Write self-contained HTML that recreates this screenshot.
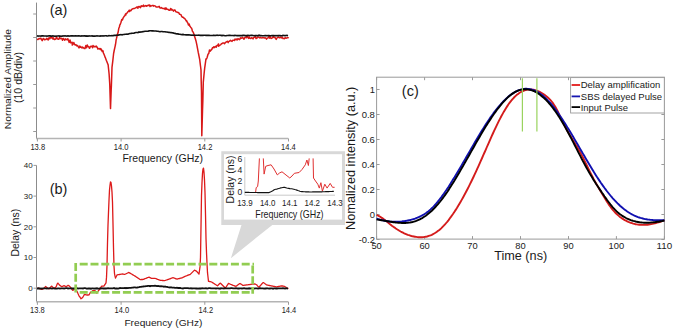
<!DOCTYPE html>
<html><head><meta charset="utf-8"><style>
html,body{margin:0;padding:0;background:#fff;}
body{width:675px;height:330px;position:relative;overflow:hidden;font-family:"Liberation Sans",sans-serif;}
</style></head><body>
<svg width="675" height="330" viewBox="0 0 675 330" style="position:absolute;left:0;top:0">
<g stroke="#9a9a9a" stroke-width="1" fill="none">
<path d="M36.5,2.6 V138.5" stroke="#8c8c8c"/><path d="M36.0,138.5 H288.3" stroke="#b4b4b4" stroke-width="1.4"/>
<path d="M33.2,14.0 H36.5"/>
<path d="M33.2,37.5 H36.5"/>
<path d="M33.2,61.0 H36.5"/>
<path d="M33.2,84.5 H36.5"/>
<path d="M33.2,108.0 H36.5"/>
<path d="M33.2,131.5 H36.5"/>
<path d="M37.4,138.5 V141.5"/>
<path d="M121.1,138.5 V141.5"/>
<path d="M204.8,138.5 V141.5"/>
<path d="M288.5,138.5 V141.5"/>
</g>
<path d="M37.0,39.3 L37.8,39.6 L38.5,39.0 L39.2,38.4 L40.0,38.8 L40.8,38.2 L41.5,39.3 L42.2,40.7 L43.0,38.8 L43.8,38.6 L44.5,39.8 L45.2,39.6 L46.0,39.4 L46.8,38.3 L47.5,39.2 L48.2,40.0 L49.0,37.8 L49.8,38.8 L50.5,37.3 L51.2,37.9 L52.0,37.3 L52.8,39.0 L53.5,37.9 L54.2,39.5 L55.0,39.4 L55.8,39.0 L56.5,36.6 L57.2,38.7 L58.0,39.2 L58.8,39.3 L59.5,37.6 L60.2,38.7 L61.0,38.2 L61.8,38.4 L62.5,40.3 L63.2,38.4 L64.0,39.2 L64.8,40.2 L65.5,38.8 L66.2,39.4 L67.0,39.7 L67.1,39.7 L67.8,38.7 L68.5,40.6 L69.2,42.4 L70.0,39.9 L70.8,42.9 L71.5,42.6 L72.2,42.3 L72.3,45.1 L73.0,44.2 L73.8,42.5 L74.5,44.2 L75.2,45.1 L76.0,44.7 L76.8,45.9 L77.5,45.5 L78.2,46.7 L79.0,47.9 L79.8,46.0 L80.5,47.3 L81.2,47.0 L82.0,48.0 L82.7,47.0 L82.8,47.6 L83.5,47.7 L84.2,48.5 L85.0,48.5 L85.8,45.6 L85.8,46.2 L86.5,47.7 L87.2,44.9 L88.0,46.5 L88.8,46.9 L89.5,48.3 L90.0,47.7 L90.2,46.6 L91.0,46.3 L91.8,46.2 L92.5,47.8 L93.0,45.6 L93.2,45.8 L94.0,46.8 L94.8,46.5 L95.5,46.7 L96.2,46.1 L97.0,47.5 L97.2,47.1 L97.8,49.0 L98.5,48.8 L99.2,48.4 L100.0,49.4 L100.8,48.6 L101.4,50.3 L101.5,49.4 L102.2,51.4 L103.0,50.9 L103.4,53.0 L103.8,53.8 L104.5,55.6 L105.2,57.4 L105.5,58.0 L106.0,59.4 L106.4,60.5 L106.8,61.4 L107.5,63.2 L108.2,65.0 L108.2,65.5 L109.0,73.0 L109.1,74.0 L109.8,84.7 L109.8,85.5 L110.5,108.6 L111.2,89.4 L111.4,85.5 L112.0,67.3 L112.8,60.9 L113.5,54.5 L113.6,53.6 L114.2,50.5 L115.0,46.9 L115.5,44.5 L115.8,42.6 L116.1,40.0 L116.5,38.4 L117.2,35.3 L117.9,32.7 L118.0,32.8 L118.8,28.3 L119.5,26.8 L119.7,25.0 L120.2,24.6 L121.0,22.3 L121.8,19.4 L122.1,20.1 L122.5,19.7 L123.2,17.8 L124.0,16.6 L124.8,15.7 L125.5,14.1 L125.8,15.0 L126.2,13.5 L127.0,13.1 L127.8,11.9 L128.5,11.3 L129.2,10.2 L129.4,11.6 L130.0,10.4 L130.8,10.7 L131.5,9.8 L132.2,9.0 L133.0,8.8 L133.8,8.4 L134.5,8.5 L135.2,8.0 L136.0,7.8 L136.8,6.9 L137.5,7.0 L137.9,8.3 L138.2,6.8 L139.0,6.4 L139.8,7.1 L140.5,7.6 L141.2,5.8 L142.0,6.4 L142.8,6.0 L143.5,5.1 L143.9,6.5 L144.2,6.1 L145.0,6.1 L145.8,5.5 L146.5,6.2 L147.2,5.6 L148.0,5.7 L148.8,5.1 L149.5,5.0 L150.0,6.5 L150.2,5.4 L151.0,5.9 L151.8,5.7 L152.5,5.4 L153.2,5.4 L153.6,6.1 L154.0,5.6 L154.8,5.9 L155.5,6.2 L156.2,7.1 L157.0,7.0 L157.8,7.0 L158.5,6.7 L159.2,6.3 L160.0,7.9 L160.8,8.1 L161.5,7.6 L162.2,8.1 L163.0,8.5 L163.8,8.6 L164.5,8.9 L164.9,8.1 L165.2,9.4 L166.0,7.9 L166.8,9.3 L167.5,9.2 L168.2,9.5 L169.0,10.3 L169.8,10.2 L170.5,8.7 L170.9,8.5 L171.2,10.1 L172.0,9.4 L172.8,10.3 L173.5,11.1 L174.2,9.9 L175.0,10.0 L175.8,11.7 L176.5,11.9 L177.0,12.0 L177.2,12.3 L178.0,12.5 L178.8,12.8 L179.5,14.2 L180.2,14.4 L181.0,14.7 L181.8,16.7 L181.8,16.4 L182.5,17.3 L183.2,17.2 L184.0,18.2 L184.8,18.7 L185.5,19.5 L186.2,20.9 L186.7,20.7 L187.0,21.8 L187.8,22.9 L188.5,25.0 L189.2,24.0 L189.7,26.0 L190.0,26.0 L190.8,27.5 L191.5,28.1 L192.2,30.0 L192.2,30.9 L193.0,31.9 L193.8,33.6 L194.2,34.3 L194.5,36.3 L195.2,38.3 L196.0,41.0 L196.1,41.4 L196.8,44.7 L197.5,48.4 L197.6,48.9 L198.2,52.2 L198.8,55.0 L199.0,56.1 L199.8,60.0 L199.8,60.3 L200.5,66.0 L201.0,70.0 L201.2,81.0 L201.5,92.0 L201.8,135.8 L202.0,128.7 L202.5,111.0 L202.8,101.9 L203.3,82.0 L203.5,80.0 L204.2,72.5 L204.7,68.0 L205.0,65.8 L205.8,60.2 L205.9,59.1 L206.5,59.0 L207.2,57.2 L208.0,54.2 L208.8,53.4 L208.9,52.8 L209.5,50.0 L210.2,51.2 L211.0,50.1 L211.8,49.4 L212.5,47.7 L213.2,47.4 L213.8,46.9 L214.0,47.8 L214.8,46.9 L215.5,46.4 L216.2,47.2 L217.0,45.4 L217.8,45.2 L218.5,44.0 L218.6,46.3 L219.2,45.5 L220.0,45.1 L220.8,44.6 L221.5,43.8 L222.2,43.5 L222.3,43.1 L223.0,42.9 L223.8,42.9 L224.5,43.7 L225.2,42.8 L226.0,42.1 L226.8,41.6 L227.5,41.3 L228.2,42.6 L228.3,41.9 L229.0,41.4 L229.8,41.0 L230.5,40.3 L231.2,40.9 L232.0,41.4 L232.8,40.3 L233.5,40.3 L234.2,40.2 L234.4,40.4 L235.0,39.0 L235.8,39.7 L236.5,39.0 L237.2,40.0 L238.0,38.6 L238.8,39.3 L239.5,39.7 L240.2,38.2 L240.5,37.9 L241.0,38.4 L241.8,38.1 L242.5,37.3 L243.2,38.3 L244.0,39.2 L244.8,37.6 L245.5,37.5 L246.2,36.8 L246.5,37.7 L247.0,36.6 L247.8,36.7 L248.5,38.4 L249.2,36.9 L250.0,38.3 L250.8,38.6 L251.5,37.7 L252.2,37.9 L253.0,38.9 L253.8,37.4 L254.5,37.2 L255.2,36.6 L255.7,37.6 L256.0,38.6 L256.8,38.3 L257.5,37.0 L258.2,37.0 L259.0,37.3 L259.8,37.9 L260.5,37.5 L261.2,37.8 L262.0,37.9 L262.8,37.5 L263.5,37.7 L264.2,37.9 L265.0,37.7 L265.8,38.1 L266.5,39.1 L267.2,38.2 L268.0,37.8 L268.8,36.6 L269.5,38.1 L270.0,36.4 L270.2,36.8 L271.0,38.4 L271.8,38.3 L272.5,37.7 L273.2,36.6 L274.0,37.5 L274.8,37.3 L275.5,38.2 L276.2,39.4 L277.0,38.0 L277.8,37.3 L278.5,37.0 L279.2,37.8 L280.0,37.7 L280.8,37.0 L281.5,37.9 L282.2,37.0 L283.0,38.6 L283.8,38.6 L284.5,38.7 L285.2,37.6 L286.0,38.3 L286.8,37.9 L287.5,37.7 L288.2,37.8 L288.5,37.1" stroke="#d81818" stroke-width="1.5" fill="none" stroke-linejoin="round"/>
<path d="M37.0,35.8 L38.0,36.1 L39.0,36.0 L40.0,36.0 L41.0,36.1 L42.0,35.8 L43.0,35.9 L44.0,36.0 L45.0,36.0 L46.0,36.0 L47.0,36.1 L48.0,36.0 L49.0,35.9 L50.0,35.9 L51.0,36.1 L52.0,36.1 L53.0,35.8 L54.0,36.2 L55.0,36.1 L56.0,36.2 L57.0,36.0 L58.0,36.0 L59.0,35.9 L60.0,36.3 L61.0,36.0 L62.0,36.2 L63.0,35.9 L64.0,36.0 L65.0,35.8 L66.0,36.0 L67.0,36.1 L68.0,35.8 L69.0,36.1 L70.0,36.0 L71.0,35.9 L72.0,35.9 L73.0,35.9 L74.0,36.0 L75.0,35.9 L76.0,35.9 L77.0,36.0 L78.0,35.9 L79.0,35.8 L80.0,36.0 L81.0,36.1 L82.0,35.8 L83.0,36.0 L84.0,35.9 L85.0,35.9 L86.0,36.1 L87.0,35.9 L88.0,36.2 L89.0,35.9 L90.0,36.0 L91.0,36.0 L92.0,35.9 L93.0,36.1 L94.0,36.0 L95.0,36.1 L96.0,36.0 L97.0,35.9 L98.0,36.0 L99.0,36.0 L100.0,36.1 L101.0,35.9 L102.0,36.0 L103.0,35.8 L104.0,36.0 L105.0,35.8 L106.0,35.7 L107.0,35.9 L108.0,36.0 L109.0,35.6 L110.0,35.7 L111.0,35.7 L112.0,35.6 L113.0,35.7 L114.0,35.4 L115.0,35.3 L116.0,35.4 L117.0,35.1 L118.0,35.2 L119.0,34.9 L120.0,34.8 L121.0,34.6 L122.0,34.9 L123.0,34.5 L124.0,34.5 L125.0,34.3 L126.0,34.2 L127.0,34.1 L128.0,34.2 L129.0,33.7 L130.0,33.5 L131.0,33.4 L132.0,33.2 L133.0,33.3 L134.0,33.1 L135.0,32.8 L136.0,32.5 L137.0,32.5 L138.0,32.6 L139.0,31.9 L140.0,32.2 L141.0,31.9 L142.0,32.0 L143.0,31.6 L144.0,31.5 L145.0,31.3 L146.0,31.2 L147.0,31.3 L148.0,31.2 L149.0,30.9 L150.0,30.8 L151.0,30.7 L152.0,30.9 L153.0,30.9 L154.0,31.0 L155.0,31.0 L156.0,31.0 L157.0,31.2 L158.0,31.3 L159.0,31.5 L160.0,31.7 L161.0,31.5 L162.0,31.5 L163.0,31.7 L164.0,31.7 L165.0,31.8 L166.0,32.0 L167.0,32.0 L168.0,32.3 L169.0,32.4 L170.0,32.5 L171.0,32.6 L172.0,32.7 L173.0,32.9 L174.0,33.2 L175.0,33.4 L176.0,33.7 L177.0,33.9 L178.0,33.9 L179.0,34.3 L180.0,34.2 L181.0,34.5 L182.0,34.6 L183.0,34.4 L184.0,34.8 L185.0,34.8 L186.0,34.9 L187.0,34.9 L188.0,34.9 L189.0,34.9 L190.0,35.0 L191.0,35.1 L192.0,35.2 L193.0,35.0 L194.0,35.2 L195.0,35.2 L196.0,35.2 L197.0,35.2 L198.0,35.3 L199.0,35.1 L200.0,35.4 L201.0,35.3 L202.0,35.4 L203.0,35.4 L204.0,35.3 L205.0,35.3 L206.0,35.4 L207.0,35.4 L208.0,35.4 L209.0,35.2 L210.0,35.5 L211.0,35.5 L212.0,35.5 L213.0,35.4 L214.0,35.2 L215.0,35.5 L216.0,35.4 L217.0,35.1 L218.0,35.5 L219.0,35.3 L220.0,35.3 L221.0,35.4 L222.0,35.6 L223.0,35.4 L224.0,35.5 L225.0,35.7 L226.0,35.7 L227.0,35.5 L228.0,35.5 L229.0,35.3 L230.0,35.4 L231.0,35.5 L232.0,35.5 L233.0,35.5 L234.0,35.6 L235.0,35.4 L236.0,35.5 L237.0,35.6 L238.0,35.6 L239.0,35.6 L240.0,35.6 L241.0,35.5 L242.0,35.6 L243.0,35.4 L244.0,35.3 L245.0,35.6 L246.0,35.5 L247.0,35.6 L248.0,35.3 L249.0,35.5 L250.0,35.5 L251.0,35.4 L252.0,35.3 L253.0,35.5 L254.0,35.7 L255.0,35.6 L256.0,35.5 L257.0,35.6 L258.0,35.7 L259.0,35.2 L260.0,35.6 L261.0,35.6 L262.0,35.7 L263.0,35.8 L264.0,35.7 L265.0,35.6 L266.0,35.6 L267.0,35.7 L268.0,35.5 L269.0,35.6 L270.0,35.7 L271.0,35.8 L272.0,35.6 L273.0,35.6 L274.0,35.6 L275.0,35.8 L276.0,35.6 L277.0,35.8 L278.0,35.5 L279.0,35.6 L280.0,35.6 L281.0,35.7 L282.0,35.7 L283.0,35.4 L284.0,35.5 L285.0,35.6 L286.0,35.5 L287.0,35.4 L288.0,35.7" stroke="#111" stroke-width="1.6" fill="none"/>
<g font-family="Liberation Sans, sans-serif">
<text x="49.7" y="15.2" font-size="14.5" text-anchor="start" fill="#1a1a1a" >(a)</text>
<text x="37.75" y="150.1" font-size="8.2" text-anchor="middle" fill="#1a1a1a"  textLength="14.7" lengthAdjust="spacingAndGlyphs">13.8</text>
<text x="121.05" y="150.1" font-size="8.2" text-anchor="middle" fill="#1a1a1a"  textLength="14.7" lengthAdjust="spacingAndGlyphs">14.0</text>
<text x="205.0" y="150.1" font-size="8.2" text-anchor="middle" fill="#1a1a1a"  textLength="14.7" lengthAdjust="spacingAndGlyphs">14.2</text>
<text x="288.45" y="150.1" font-size="8.2" text-anchor="middle" fill="#1a1a1a"  textLength="14.7" lengthAdjust="spacingAndGlyphs">14.4</text>
<text x="122.4" y="161.9" font-size="10.2" text-anchor="start" fill="#1a1a1a"  textLength="80.6" lengthAdjust="spacingAndGlyphs">Frequency (GHz)</text>
<text x="11.4" y="129.2" font-size="9.9" text-anchor="start" fill="#1a1a1a" transform="rotate(-90 11.4 129.2)"  textLength="100.2" lengthAdjust="spacingAndGlyphs">Normalized Amplitude</text>
<text x="22.3" y="103.0" font-size="10.0" text-anchor="start" fill="#1a1a1a" transform="rotate(-90 22.3 103.0)"  textLength="51" lengthAdjust="spacingAndGlyphs">(10 dB/div)</text>
</g>
<g stroke="#9a9a9a" stroke-width="1" fill="none">
<path d="M36.5,165.3 V301.8" stroke="#8c8c8c"/><path d="M36.0,301.8 H288.3" stroke="#b4b4b4" stroke-width="1.5"/>
<path d="M33.5,288.2 H36.5"/>
<path d="M33.5,257.5 H36.5"/>
<path d="M33.5,226.8 H36.5"/>
<path d="M33.5,196.1 H36.5"/>
<path d="M33.5,165.4 H36.5"/>
<path d="M37.4,301.8 V304.8"/>
<path d="M121.1,301.8 V304.8"/>
<path d="M204.8,301.8 V304.8"/>
<path d="M288.5,301.8 V304.8"/>
</g>
<path d="M37.0,288.5 L37.5,288.3 L38.0,288.2 L38.5,288.2 L39.0,288.4 L39.5,288.6 L40.0,288.8 L40.5,288.9 L41.0,289.1 L41.5,289.3 L42.0,289.3 L42.5,289.1 L43.0,289.0 L43.5,288.7 L44.0,288.1 L44.5,287.6 L45.0,287.1 L45.5,286.5 L46.0,286.8 L46.5,287.2 L47.0,287.6 L47.5,288.0 L48.0,288.3 L48.5,288.6 L49.0,288.8 L49.5,288.3 L50.0,287.7 L50.5,287.2 L51.0,286.6 L51.5,286.1 L52.0,286.3 L52.5,286.9 L53.0,287.4 L53.5,287.8 L54.0,287.8 L54.5,287.8 L55.0,287.8 L55.5,287.8 L56.0,286.9 L56.5,285.8 L57.0,284.6 L57.5,283.5 L58.0,283.1 L58.5,283.8 L59.0,284.4 L59.5,285.1 L60.0,285.4 L60.5,285.8 L61.0,286.2 L61.5,286.6 L62.0,286.6 L62.5,286.3 L63.0,286.1 L63.5,285.8 L64.0,285.7 L64.5,285.9 L65.0,286.2 L65.5,286.4 L66.0,286.6 L66.5,286.4 L67.0,286.1 L67.5,285.7 L68.0,285.4 L68.5,285.4 L69.0,285.8 L69.5,286.2 L70.0,286.7 L70.5,287.1 L71.0,287.8 L71.5,288.6 L72.0,289.4 L72.5,290.1 L73.0,290.4 L73.5,289.9 L74.0,289.3 L74.5,289.0 L75.0,289.3 L75.5,289.7 L76.0,290.1 L76.5,290.5 L77.0,291.3 L77.5,292.4 L78.0,293.6 L78.5,294.7 L79.0,295.8 L79.5,296.5 L80.0,297.2 L80.5,298.0 L81.0,298.8 L81.5,298.5 L82.0,298.0 L82.5,297.5 L83.0,296.8 L83.5,296.0 L84.0,295.1 L84.5,294.4 L85.0,294.6 L85.5,294.7 L86.0,294.8 L86.5,294.9 L87.0,295.0 L87.5,295.0 L88.0,295.0 L88.5,295.0 L89.0,294.8 L89.5,294.0 L90.0,293.2 L90.5,292.4 L91.0,291.9 L91.5,291.5 L92.0,291.2 L92.5,290.8 L93.0,290.6 L93.5,290.6 L94.0,290.6 L94.5,290.6 L95.0,290.6 L95.5,291.4 L96.0,292.2 L96.5,293.0 L97.0,292.9 L97.5,292.1 L98.0,291.4 L98.5,290.7 L99.0,290.0 L99.5,289.3 L100.0,288.5 L100.5,287.8 L101.0,287.1 L101.5,286.4 L102.0,286.1 L102.5,286.1 L103.0,286.1 L103.5,286.1 L104.0,286.0 L104.5,285.2 L105.0,284.5 L105.5,283.7 L106.0,282.9 L106.5,277.4 L107.0,265.5 L107.5,242.7 L108.0,225.0 L108.5,212.4 L109.0,200.3 L109.5,190.0 L110.0,185.3 L110.5,181.9 L111.0,182.5 L111.5,186.0 L112.0,192.1 L112.5,202.3 L113.0,223.9 L113.5,247.8 L114.0,266.3 L114.5,273.5 L115.0,276.2 L115.5,278.1 L116.0,277.0 L116.5,276.0 L117.0,274.9 L117.5,274.8 L118.0,274.7 L118.5,274.6 L119.0,274.6 L119.5,274.5 L120.0,274.4 L120.5,274.3 L121.0,274.2 L121.5,274.1 L122.0,274.1 L122.5,274.0 L123.0,274.1 L123.5,274.2 L124.0,274.3 L124.5,274.3 L125.0,274.3 L125.5,274.0 L126.0,273.8 L126.5,273.5 L127.0,273.3 L127.5,273.0 L128.0,272.8 L128.5,272.5 L129.0,272.6 L129.5,272.9 L130.0,273.2 L130.5,273.4 L131.0,273.7 L131.5,274.0 L132.0,274.3 L132.5,274.6 L133.0,274.9 L133.5,275.2 L134.0,275.5 L134.5,275.8 L135.0,276.1 L135.5,276.4 L136.0,276.7 L136.5,277.1 L137.0,277.4 L137.5,277.7 L138.0,278.1 L138.5,278.4 L139.0,278.7 L139.5,279.1 L140.0,279.4 L140.5,279.6 L141.0,279.6 L141.5,279.5 L142.0,279.5 L142.5,279.5 L143.0,279.4 L143.5,279.4 L144.0,279.1 L144.5,278.9 L145.0,278.7 L145.5,278.5 L146.0,278.3 L146.5,278.1 L147.0,277.9 L147.5,277.7 L148.0,277.5 L148.5,277.3 L149.0,277.2 L149.5,277.4 L150.0,277.7 L150.5,277.9 L151.0,278.2 L151.5,278.3 L152.0,278.3 L152.5,278.3 L153.0,278.3 L153.5,278.3 L154.0,278.3 L154.5,278.3 L155.0,278.3 L155.5,278.5 L156.0,278.7 L156.5,278.9 L157.0,279.1 L157.5,279.3 L158.0,279.5 L158.5,279.7 L159.0,279.9 L159.5,280.1 L160.0,280.2 L160.5,280.3 L161.0,280.3 L161.5,280.4 L162.0,280.4 L162.5,280.5 L163.0,280.5 L163.5,280.6 L164.0,280.7 L164.5,280.7 L165.0,280.5 L165.5,280.3 L166.0,280.2 L166.5,280.0 L167.0,279.8 L167.5,279.6 L168.0,279.5 L168.5,279.3 L169.0,279.1 L169.5,278.9 L170.0,278.8 L170.5,278.6 L171.0,278.4 L171.5,278.2 L172.0,278.0 L172.5,277.8 L173.0,277.6 L173.5,277.8 L174.0,278.0 L174.5,278.2 L175.0,278.4 L175.5,278.6 L176.0,278.8 L176.5,278.9 L177.0,279.1 L177.5,279.0 L178.0,278.8 L178.5,278.7 L179.0,278.6 L179.5,278.5 L180.0,278.4 L180.5,278.2 L181.0,278.1 L181.5,278.0 L182.0,277.8 L182.5,277.6 L183.0,277.3 L183.5,277.1 L184.0,276.9 L184.5,276.7 L185.0,276.4 L185.5,276.2 L186.0,276.0 L186.5,275.8 L187.0,275.6 L187.5,275.3 L188.0,275.1 L188.5,275.0 L189.0,274.9 L189.5,274.7 L190.0,274.6 L190.5,274.1 L191.0,273.6 L191.5,273.1 L192.0,272.6 L192.5,272.1 L193.0,271.6 L193.5,271.1 L194.0,270.6 L194.5,270.1 L195.0,270.4 L195.5,270.6 L196.0,270.9 L196.5,271.2 L197.0,271.7 L197.5,272.3 L198.0,272.9 L198.5,273.5 L199.0,274.1 L199.5,270.5 L200.0,266.9 L200.5,257.2 L201.0,226.4 L201.5,195.4 L202.0,182.6 L202.5,173.3 L203.0,169.0 L203.5,168.1 L204.0,172.4 L204.5,180.1 L205.0,192.8 L205.5,214.1 L206.0,238.5 L206.5,252.3 L207.0,263.4 L207.5,272.7 L208.0,277.0 L208.5,281.3 L209.0,281.4 L209.5,281.5 L210.0,281.6 L210.5,281.7 L211.0,281.8 L211.5,282.0 L212.0,282.3 L212.5,282.6 L213.0,282.9 L213.5,283.2 L214.0,283.5 L214.5,283.9 L215.0,284.2 L215.5,284.5 L216.0,284.8 L216.5,285.2 L217.0,285.5 L217.5,285.8 L218.0,285.3 L218.5,284.8 L219.0,284.3 L219.5,283.8 L220.0,283.3 L220.5,283.2 L221.0,283.7 L221.5,284.2 L222.0,284.7 L222.5,285.2 L223.0,285.7 L223.5,286.2 L224.0,286.7 L224.5,287.3 L225.0,287.8 L225.5,287.8 L226.0,287.1 L226.5,286.3 L227.0,285.6 L227.5,284.9 L228.0,284.1 L228.5,283.4 L229.0,283.6 L229.5,283.8 L230.0,284.0 L230.5,284.3 L231.0,284.5 L231.5,284.7 L232.0,284.9 L232.5,285.1 L233.0,285.3 L233.5,285.5 L234.0,285.7 L234.5,285.9 L235.0,286.1 L235.5,286.2 L236.0,286.3 L236.5,285.9 L237.0,285.6 L237.5,285.2 L238.0,284.8 L238.5,284.4 L239.0,284.1 L239.5,283.7 L240.0,283.5 L240.5,283.8 L241.0,284.1 L241.5,284.5 L242.0,284.8 L242.5,285.1 L243.0,285.4 L243.5,285.3 L244.0,285.3 L244.5,285.2 L245.0,285.1 L245.5,285.1 L246.0,285.0 L246.5,284.9 L247.0,284.9 L247.5,284.8 L248.0,284.8 L248.5,284.7 L249.0,284.6 L249.5,284.6 L250.0,284.5 L250.5,284.4 L251.0,284.4 L251.5,284.3 L252.0,284.2 L252.5,284.2 L253.0,284.1 L253.5,284.1 L254.0,284.0 L254.5,283.9 L255.0,284.0 L255.5,284.2 L256.0,284.5 L256.5,284.8 L257.0,285.1 L257.5,285.8 L258.0,286.4 L258.5,287.0 L259.0,287.2 L259.5,286.6 L260.0,286.0 L260.5,285.5 L261.0,284.9 L261.5,284.3 L262.0,283.8 L262.5,283.2 L263.0,282.6 L263.5,282.6 L264.0,283.0 L264.5,283.3 L265.0,283.7 L265.5,284.0 L266.0,284.4 L266.5,284.8 L267.0,285.0 L267.5,285.1 L268.0,285.2 L268.5,285.3 L269.0,285.4 L269.5,285.5 L270.0,285.6 L270.5,285.7 L271.0,285.8 L271.5,285.9 L272.0,286.0 L272.5,286.1 L273.0,286.2 L273.5,286.3 L274.0,286.4 L274.5,286.5 L275.0,286.6 L275.5,286.7 L276.0,286.8 L276.5,286.9 L277.0,286.8 L277.5,286.7 L278.0,286.6 L278.5,286.5 L279.0,286.4 L279.5,286.3 L280.0,286.2 L280.5,286.1 L281.0,286.0 L281.5,285.9 L282.0,286.0 L282.5,286.0 L283.0,286.1 L283.5,286.2 L284.0,286.3 L284.5,286.4 L285.0,286.7 L285.5,287.0 L286.0,287.3 L286.5,287.7 L287.0,288.0 L287.5,288.3 L288.0,288.4 L288.5,288.3" stroke="#dd1a1a" stroke-width="1.3" fill="none" stroke-linejoin="round"/>
<path d="M37.0,288.5 L38.0,288.5 L39.0,288.3 L40.0,288.6 L41.0,288.4 L42.0,288.6 L43.0,288.3 L44.0,288.3 L45.0,288.4 L46.0,288.3 L47.0,288.5 L48.0,288.4 L49.0,288.3 L50.0,288.4 L51.0,288.3 L52.0,288.5 L53.0,288.3 L54.0,288.3 L55.0,288.6 L56.0,288.7 L57.0,288.7 L58.0,288.4 L59.0,288.4 L60.0,288.6 L61.0,288.4 L62.0,288.3 L63.0,288.4 L64.0,288.5 L65.0,288.3 L66.0,288.2 L67.0,288.2 L68.0,288.5 L69.0,288.3 L70.0,288.4 L71.0,288.4 L72.0,288.5 L73.0,288.3 L74.0,288.5 L75.0,288.3 L76.0,288.3 L77.0,288.2 L78.0,288.6 L79.0,288.4 L80.0,288.3 L81.0,288.3 L82.0,288.4 L83.0,288.5 L84.0,288.2 L85.0,288.2 L86.0,288.3 L87.0,288.8 L88.0,288.5 L89.0,288.4 L90.0,288.5 L91.0,288.7 L92.0,288.4 L93.0,288.3 L94.0,288.6 L95.0,288.5 L96.0,288.5 L97.0,288.3 L98.0,288.7 L99.0,288.7 L100.0,288.5 L101.0,288.5 L102.0,288.1 L103.0,288.5 L104.0,288.4 L105.0,288.5 L106.0,288.5 L107.0,288.3 L108.0,288.1 L109.0,288.4 L110.0,288.3 L111.0,288.3 L112.0,288.3 L113.0,288.3 L114.0,288.0 L115.0,288.6 L116.0,288.4 L117.0,288.5 L118.0,288.6 L119.0,288.3 L120.0,288.0 L121.0,288.2 L122.0,288.1 L123.0,288.2 L124.0,288.2 L125.0,287.9 L126.0,288.2 L127.0,287.9 L128.0,288.1 L129.0,287.9 L130.0,287.8 L131.0,287.8 L132.0,287.7 L133.0,287.6 L134.0,287.3 L135.0,287.4 L136.0,287.6 L137.0,287.5 L138.0,287.3 L139.0,287.1 L140.0,286.8 L141.0,286.9 L142.0,286.6 L143.0,286.5 L144.0,286.3 L145.0,286.3 L146.0,286.1 L147.0,286.1 L148.0,285.8 L149.0,285.9 L150.0,286.2 L151.0,285.8 L152.0,285.8 L153.0,285.9 L154.0,285.9 L155.0,285.7 L156.0,285.8 L157.0,286.1 L158.0,286.0 L159.0,286.1 L160.0,286.4 L161.0,286.2 L162.0,286.4 L163.0,286.4 L164.0,286.8 L165.0,286.4 L166.0,286.8 L167.0,286.9 L168.0,287.2 L169.0,287.3 L170.0,287.5 L171.0,287.2 L172.0,287.7 L173.0,287.6 L174.0,287.6 L175.0,287.9 L176.0,287.8 L177.0,287.6 L178.0,288.0 L179.0,287.9 L180.0,288.0 L181.0,288.2 L182.0,288.3 L183.0,288.5 L184.0,288.2 L185.0,288.1 L186.0,288.2 L187.0,288.2 L188.0,288.2 L189.0,288.4 L190.0,288.3 L191.0,288.1 L192.0,288.5 L193.0,288.4 L194.0,288.4 L195.0,288.4 L196.0,288.5 L197.0,288.4 L198.0,288.6 L199.0,288.5 L200.0,288.5 L201.0,288.5 L202.0,288.2 L203.0,288.4 L204.0,288.4 L205.0,288.4 L206.0,288.2 L207.0,288.6 L208.0,288.4 L209.0,288.2 L210.0,288.1 L211.0,288.4 L212.0,288.4 L213.0,288.3 L214.0,288.4 L215.0,288.3 L216.0,288.5 L217.0,288.3 L218.0,288.4 L219.0,288.5 L220.0,288.8 L221.0,288.2 L222.0,288.3 L223.0,288.3 L224.0,288.5 L225.0,288.2 L226.0,288.3 L227.0,288.4 L228.0,288.3 L229.0,288.3 L230.0,288.3 L231.0,288.1 L232.0,288.2 L233.0,288.3 L234.0,288.4 L235.0,288.4 L236.0,288.1 L237.0,288.3 L238.0,288.5 L239.0,288.5 L240.0,288.4 L241.0,288.3 L242.0,288.5 L243.0,288.3 L244.0,288.2 L245.0,288.3 L246.0,288.6 L247.0,288.4 L248.0,288.6 L249.0,288.3 L250.0,288.5 L251.0,288.3 L252.0,288.4 L253.0,288.8 L254.0,288.5 L255.0,288.3 L256.0,288.4 L257.0,288.4 L258.0,288.6 L259.0,288.3 L260.0,288.1 L261.0,288.4 L262.0,288.4 L263.0,288.4 L264.0,288.6 L265.0,288.4 L266.0,288.5 L267.0,288.2 L268.0,288.5 L269.0,288.7 L270.0,288.5 L271.0,288.4 L272.0,288.4 L273.0,288.7 L274.0,288.3 L275.0,288.4 L276.0,288.5 L277.0,288.5 L278.0,288.3 L279.0,288.4 L280.0,288.4 L281.0,288.4 L282.0,288.4 L283.0,288.2 L284.0,288.4 L285.0,288.5 L286.0,288.3 L287.0,288.4 L288.0,288.5" stroke="#111" stroke-width="1.8" fill="none"/>
<g stroke="#92cd52" stroke-width="2.7" fill="none" stroke-dasharray="8 2.8">
<path d="M75.7,262.9 V293.7"/>
<path d="M79.7,264.2 H254.0"/>
<path d="M252.7,265.5 V293.7"/>
<path d="M79.7,292.4 H251.39999999999998"/>
</g>
<g font-family="Liberation Sans, sans-serif">
<text x="49.7" y="193.5" font-size="14.5" text-anchor="start" fill="#1a1a1a" >(b)</text>
<text x="32.7" y="291.0" font-size="8.0" text-anchor="end" fill="#1a1a1a" >0</text>
<text x="32.7" y="260.3" font-size="8.0" text-anchor="end" fill="#1a1a1a" >10</text>
<text x="32.7" y="229.6" font-size="8.0" text-anchor="end" fill="#1a1a1a" >20</text>
<text x="32.7" y="198.9" font-size="8.0" text-anchor="end" fill="#1a1a1a" >30</text>
<text x="32.7" y="168.2" font-size="8.0" text-anchor="end" fill="#1a1a1a" >40</text>
<text x="37.4" y="313.0" font-size="8.2" text-anchor="middle" fill="#1a1a1a"  textLength="14.6" lengthAdjust="spacingAndGlyphs">13.8</text>
<text x="121.8" y="313.0" font-size="8.2" text-anchor="middle" fill="#1a1a1a"  textLength="14.6" lengthAdjust="spacingAndGlyphs">14.0</text>
<text x="205.8" y="313.0" font-size="8.2" text-anchor="middle" fill="#1a1a1a"  textLength="14.6" lengthAdjust="spacingAndGlyphs">14.2</text>
<text x="289.0" y="313.0" font-size="8.2" text-anchor="middle" fill="#1a1a1a"  textLength="14.6" lengthAdjust="spacingAndGlyphs">14.4</text>
<text x="124.4" y="325.5" font-size="9.9" text-anchor="start" fill="#1a1a1a"  textLength="78" lengthAdjust="spacingAndGlyphs">Frequency (GHz)</text>
<text x="19.1" y="256.6" font-size="10.3" text-anchor="start" fill="#1a1a1a" transform="rotate(-90 19.1 256.6)"  textLength="47.8" lengthAdjust="spacingAndGlyphs">Delay (ns)</text>
</g>
<path d="M221.3,151.2 H345 V224.9 H272.3 L230.9,258.2 L241.5,224.9 H221.3 Z" fill="#d8d8d8"/>
<rect x="224" y="154.2" width="118" height="65.4" fill="#fff"/>
<path d="M244.8,157 V195.2 H335" stroke="#bdbdbd" stroke-width="0.8" fill="none"/>
<path d="M255.6,192.4 L256.2,187.6 L257.6,186.6 L258.3,181.0 L259.4,158.4" stroke="#e03030" stroke-width="1.0" fill="none" stroke-linejoin="round"/>
<path d="M263.3,158.4 L264.1,174.1 L265.7,166.3 L268.0,165.5 L271.1,164.8 L274.0,169.0 L277.3,174.9 L279.5,173.0 L282.0,171.8 L286.0,175.0 L289.8,178.0 L292.0,176.0 L294.4,173.3 L299.1,172.5 L302.0,169.5 L305.3,164.8 L306.9,160.0 L308.4,165.5 L309.2,158.4" stroke="#e03030" stroke-width="1.0" fill="none" stroke-linejoin="round"/>
<path d="M313.1,158.4 L313.5,178.0 L315.5,181.0 L317.8,184.2 L319.3,188.1 L320.9,182.7 L322.4,191.2 L324.8,184.2 L327.1,188.1 L330.2,183.4 L332.5,187.3 L334.6,187.3" stroke="#e03030" stroke-width="1.0" fill="none" stroke-linejoin="round"/>
<path d="M244.8,192.4 L245.8,192.4 L246.8,192.4 L247.8,192.4 L248.8,192.4 L249.8,192.5 L250.8,192.5 L251.8,192.5 L252.8,192.5 L253.8,192.5 L254.8,192.5 L255.8,192.5 L256.8,192.5 L257.8,192.6 L258.8,192.6 L259.8,192.6 L260.8,192.6 L261.8,192.6 L262.8,192.6 L263.8,192.6 L264.8,192.6 L265.8,192.6 L266.8,192.6 L267.8,192.6 L268.8,192.6 L269.8,192.2 L270.8,191.8 L271.8,191.3 L272.8,190.7 L273.8,190.0 L274.8,189.5 L275.8,189.3 L276.8,189.1 L277.8,188.8 L278.8,188.5 L279.8,188.2 L280.8,187.9 L281.8,187.7 L282.8,187.5 L283.8,187.4 L284.8,187.4 L285.8,187.7 L286.8,188.0 L287.8,188.2 L288.8,188.4 L289.8,188.6 L290.8,188.7 L291.8,188.8 L292.8,189.0 L293.8,189.2 L294.8,189.5 L295.8,189.7 L296.8,190.1 L297.8,190.5 L298.8,190.8 L299.8,191.2 L300.8,191.5 L301.8,191.6 L302.8,191.6 L303.8,191.7 L304.8,191.7 L305.8,191.8 L306.8,191.8 L307.8,191.9 L308.8,191.9 L309.8,192.0 L310.8,192.0 L311.8,192.0 L312.8,191.9 L313.8,191.9 L314.8,191.9 L315.8,191.9 L316.8,191.9 L317.8,191.8 L318.8,191.8 L319.8,191.8 L320.8,191.8 L321.8,191.8 L322.8,191.7 L323.8,191.7 L324.8,191.7 L325.8,191.6 L326.8,191.6 L327.8,191.6 L328.8,191.6 L329.8,191.5 L330.8,191.5 L331.8,191.5 L332.8,191.4 L333.8,191.4" stroke="#111" stroke-width="1.15" fill="none"/>
<g font-family="Liberation Sans, sans-serif">
<text x="242.3" y="195.2" font-size="8.6" text-anchor="end" fill="#1a1a1a" >0</text>
<text x="242.3" y="183.9" font-size="8.6" text-anchor="end" fill="#1a1a1a" >2</text>
<text x="242.3" y="172.6" font-size="8.6" text-anchor="end" fill="#1a1a1a" >4</text>
<text x="242.3" y="161.7" font-size="8.6" text-anchor="end" fill="#1a1a1a" >6</text>
<text x="244.85" y="205.7" font-size="9.0" text-anchor="middle" fill="#1a1a1a"  textLength="15.4" lengthAdjust="spacingAndGlyphs">13.9</text>
<text x="267.6" y="205.7" font-size="9.0" text-anchor="middle" fill="#1a1a1a"  textLength="15.4" lengthAdjust="spacingAndGlyphs">14.0</text>
<text x="289.8" y="205.7" font-size="9.0" text-anchor="middle" fill="#1a1a1a"  textLength="15.4" lengthAdjust="spacingAndGlyphs">14.1</text>
<text x="312.3" y="205.7" font-size="9.0" text-anchor="middle" fill="#1a1a1a"  textLength="15.4" lengthAdjust="spacingAndGlyphs">14.2</text>
<text x="335.0" y="205.7" font-size="9.0" text-anchor="middle" fill="#1a1a1a"  textLength="15.4" lengthAdjust="spacingAndGlyphs">14.3</text>
<text x="255.2" y="217.6" font-size="10.4" text-anchor="start" fill="#1a1a1a"  textLength="68.4" lengthAdjust="spacingAndGlyphs">Frequency (GHz)</text>
<text x="233.8" y="179.5" font-size="10.5" text-anchor="middle" fill="#1a1a1a" transform="rotate(-90 233.8 179.5)" >Delay (ns)</text>
</g>
<rect x="376.6" y="77.2" width="287.8" height="161.9" stroke="#9a9a9a" stroke-width="1" fill="none"/>
<g stroke="#9a9a9a" stroke-width="1">
<path d="M376.6,239.5 h3 M664.4,239.5 h-3"/>
<path d="M376.6,214.5 h3 M664.4,214.5 h-3"/>
<path d="M376.6,189.5 h3 M664.4,189.5 h-3"/>
<path d="M376.6,164.5 h3 M664.4,164.5 h-3"/>
<path d="M376.6,139.5 h3 M664.4,139.5 h-3"/>
<path d="M376.6,114.5 h3 M664.4,114.5 h-3"/>
<path d="M376.6,89.5 h3 M664.4,89.5 h-3"/>
<path d="M376.6,239.1 v-3 M376.6,77.2 v3"/>
<path d="M424.6,239.1 v-3 M424.6,77.2 v3"/>
<path d="M472.5,239.1 v-3 M472.5,77.2 v3"/>
<path d="M520.5,239.1 v-3 M520.5,77.2 v3"/>
<path d="M568.5,239.1 v-3 M568.5,77.2 v3"/>
<path d="M616.4,239.1 v-3 M616.4,77.2 v3"/>
<path d="M664.4,239.1 v-3 M664.4,77.2 v3"/>
</g>
<path d="M376.6,214.9 L377.8,215.5 L379.0,216.1 L380.2,216.8 L381.4,217.6 L382.6,218.4 L383.8,219.3 L385.0,220.2 L386.2,221.1 L387.4,222.1 L388.6,223.0 L389.8,224.0 L391.0,224.9 L392.2,225.9 L393.4,226.8 L394.6,227.6 L395.8,228.5 L397.0,229.3 L398.2,230.0 L399.4,230.8 L400.6,231.5 L401.8,232.1 L403.0,232.7 L404.2,233.3 L405.4,233.8 L406.6,234.3 L407.8,234.8 L409.0,235.2 L410.2,235.6 L411.4,236.0 L412.6,236.3 L413.8,236.5 L415.0,236.7 L416.2,236.9 L417.4,237.1 L418.6,237.2 L419.8,237.2 L421.0,237.2 L422.2,237.2 L423.4,237.1 L424.6,236.9 L425.8,236.7 L427.0,236.5 L428.2,236.1 L429.4,235.7 L430.6,235.3 L431.8,234.8 L433.0,234.2 L434.2,233.5 L435.4,232.8 L436.6,232.0 L437.8,231.1 L439.0,230.2 L440.2,229.2 L441.4,228.1 L442.6,226.9 L443.8,225.7 L445.0,224.4 L446.2,223.0 L447.4,221.6 L448.6,220.1 L449.7,218.5 L450.9,216.9 L452.1,215.2 L453.3,213.5 L454.5,211.7 L455.7,209.9 L456.9,208.0 L458.1,206.0 L459.3,204.0 L460.5,202.0 L461.7,199.9 L462.9,197.7 L464.1,195.5 L465.3,193.3 L466.5,191.0 L467.7,188.7 L468.9,186.3 L470.1,183.9 L471.3,181.5 L472.5,179.0 L473.7,176.5 L474.9,173.9 L476.1,171.3 L477.3,168.7 L478.5,166.1 L479.7,163.4 L480.9,160.7 L482.1,158.0 L483.3,155.2 L484.5,152.5 L485.7,149.8 L486.9,147.0 L488.1,144.3 L489.3,141.6 L490.5,138.9 L491.7,136.2 L492.9,133.5 L494.1,130.9 L495.3,128.4 L496.5,125.8 L497.7,123.4 L498.9,120.9 L500.1,118.6 L501.3,116.3 L502.5,114.1 L503.7,111.9 L504.9,109.9 L506.1,107.9 L507.3,106.1 L508.5,104.3 L509.7,102.6 L510.9,101.1 L512.1,99.6 L513.3,98.3 L514.5,97.0 L515.7,95.9 L516.9,94.8 L518.1,93.9 L519.3,93.0 L520.5,92.3 L521.7,91.6 L522.9,91.0 L524.1,90.6 L525.3,90.2 L526.5,89.9 L527.7,89.6 L528.9,89.5 L530.1,89.5 L531.3,89.5 L532.5,89.6 L533.7,89.8 L534.9,90.1 L536.1,90.4 L537.3,90.8 L538.5,91.3 L539.7,91.9 L540.9,92.5 L542.1,93.2 L543.3,94.0 L544.5,94.8 L545.7,95.7 L546.9,96.7 L548.1,97.8 L549.3,98.9 L550.5,100.1 L551.7,101.5 L552.9,103.1 L554.1,104.9 L555.3,106.8 L556.5,109.0 L557.7,111.3 L558.9,113.8 L560.1,116.3 L561.3,118.9 L562.5,121.4 L563.7,123.9 L564.9,126.2 L566.1,128.5 L567.3,130.7 L568.5,132.8 L569.7,134.8 L570.9,136.8 L572.1,138.8 L573.3,140.8 L574.5,142.7 L575.7,144.7 L576.9,146.6 L578.1,148.7 L579.3,150.7 L580.5,152.9 L581.7,155.1 L582.9,157.4 L584.1,159.8 L585.3,162.3 L586.5,164.7 L587.7,167.2 L588.9,169.7 L590.1,172.1 L591.3,174.4 L592.5,176.7 L593.6,178.9 L594.8,181.1 L596.0,183.3 L597.2,185.4 L598.4,187.5 L599.6,189.5 L600.8,191.5 L602.0,193.6 L603.2,195.6 L604.4,197.6 L605.6,199.5 L606.8,201.5 L608.0,203.3 L609.2,205.1 L610.4,206.8 L611.6,208.3 L612.8,209.8 L614.0,211.2 L615.2,212.5 L616.4,213.7 L617.6,214.8 L618.8,215.9 L620.0,216.9 L621.2,217.8 L622.4,218.6 L623.6,219.4 L624.8,220.1 L626.0,220.7 L627.2,221.3 L628.4,221.9 L629.6,222.4 L630.8,222.8 L632.0,223.2 L633.2,223.6 L634.4,223.9 L635.6,224.2 L636.8,224.4 L638.0,224.6 L639.2,224.7 L640.4,224.8 L641.6,224.9 L642.8,224.9 L644.0,224.9 L645.2,224.9 L646.4,224.8 L647.6,224.7 L648.8,224.5 L650.0,224.3 L651.2,224.1 L652.4,223.9 L653.6,223.6 L654.8,223.4 L656.0,223.0 L657.2,222.7 L658.4,222.4 L659.6,222.0 L660.8,221.6 L662.0,221.2 L663.2,220.7 L664.4,220.3" stroke="#d41c1c" stroke-width="1.9" fill="none"/>
<path d="M376.6,218.6 L377.8,219.0 L379.0,219.3 L380.2,219.7 L381.4,220.0 L382.6,220.3 L383.8,220.5 L385.0,220.8 L386.2,221.0 L387.4,221.2 L388.6,221.3 L389.8,221.5 L391.0,221.6 L392.2,221.7 L393.4,221.7 L394.6,221.8 L395.8,221.8 L397.0,221.8 L398.2,221.7 L399.4,221.7 L400.6,221.6 L401.8,221.5 L403.0,221.3 L404.2,221.2 L405.4,221.0 L406.6,220.8 L407.8,220.5 L409.0,220.3 L410.2,220.0 L411.4,219.7 L412.6,219.3 L413.8,219.0 L415.0,218.6 L416.2,218.1 L417.4,217.7 L418.6,217.2 L419.8,216.6 L421.0,216.0 L422.2,215.4 L423.4,214.7 L424.6,214.0 L425.8,213.2 L427.0,212.3 L428.2,211.4 L429.4,210.4 L430.6,209.4 L431.8,208.2 L433.0,207.1 L434.2,205.8 L435.4,204.5 L436.6,203.1 L437.8,201.7 L439.0,200.2 L440.2,198.6 L441.4,197.1 L442.6,195.4 L443.8,193.8 L445.0,192.0 L446.2,190.3 L447.4,188.5 L448.6,186.7 L449.7,184.9 L450.9,183.0 L452.1,181.1 L453.3,179.1 L454.5,177.2 L455.7,175.2 L456.9,173.2 L458.1,171.2 L459.3,169.2 L460.5,167.2 L461.7,165.1 L462.9,163.0 L464.1,161.0 L465.3,158.9 L466.5,156.8 L467.7,154.7 L468.9,152.7 L470.1,150.6 L471.3,148.5 L472.5,146.4 L473.7,144.4 L474.9,142.3 L476.1,140.3 L477.3,138.3 L478.5,136.3 L479.7,134.3 L480.9,132.3 L482.1,130.3 L483.3,128.4 L484.5,126.5 L485.7,124.6 L486.9,122.8 L488.1,121.0 L489.3,119.2 L490.5,117.4 L491.7,115.7 L492.9,114.1 L494.1,112.4 L495.3,110.8 L496.5,109.3 L497.7,107.8 L498.9,106.4 L500.1,105.0 L501.3,103.6 L502.5,102.3 L503.7,101.0 L504.9,99.9 L506.1,98.7 L507.3,97.6 L508.5,96.6 L509.7,95.6 L510.9,94.7 L512.1,93.9 L513.3,93.1 L514.5,92.3 L515.7,91.7 L516.9,91.1 L518.1,90.5 L519.3,90.1 L520.5,89.7 L521.7,89.4 L522.9,89.1 L524.1,88.9 L525.3,88.8 L526.5,88.8 L527.7,88.9 L528.9,89.0 L530.1,89.2 L531.3,89.4 L532.5,89.8 L533.7,90.2 L534.9,90.7 L536.1,91.2 L537.3,91.9 L538.5,92.6 L539.7,93.3 L540.9,94.2 L542.1,95.1 L543.3,96.0 L544.5,97.1 L545.7,98.2 L546.9,99.3 L548.1,100.6 L549.3,101.8 L550.5,103.2 L551.7,104.6 L552.9,106.1 L554.1,107.6 L555.3,109.2 L556.5,110.8 L557.7,112.5 L558.9,114.2 L560.1,116.0 L561.3,117.8 L562.5,119.6 L563.7,121.4 L564.9,123.3 L566.1,125.2 L567.3,127.2 L568.5,129.1 L569.7,131.1 L570.9,133.1 L572.1,135.1 L573.3,137.1 L574.5,139.2 L575.7,141.2 L576.9,143.3 L578.1,145.3 L579.3,147.4 L580.5,149.4 L581.7,151.5 L582.9,153.6 L584.1,155.6 L585.3,157.7 L586.5,159.7 L587.7,161.7 L588.9,163.7 L590.1,165.7 L591.3,167.7 L592.5,169.7 L593.6,171.6 L594.8,173.5 L596.0,175.4 L597.2,177.3 L598.4,179.1 L599.6,180.9 L600.8,182.7 L602.0,184.4 L603.2,186.1 L604.4,187.8 L605.6,189.4 L606.8,191.0 L608.0,192.5 L609.2,194.0 L610.4,195.5 L611.6,196.9 L612.8,198.3 L614.0,199.6 L615.2,200.9 L616.4,202.2 L617.6,203.4 L618.8,204.5 L620.0,205.7 L621.2,206.7 L622.4,207.8 L623.6,208.8 L624.8,209.7 L626.0,210.6 L627.2,211.5 L628.4,212.3 L629.6,213.0 L630.8,213.7 L632.0,214.4 L633.2,215.0 L634.4,215.6 L635.6,216.1 L636.8,216.6 L638.0,217.1 L639.2,217.5 L640.4,217.9 L641.6,218.2 L642.8,218.5 L644.0,218.8 L645.2,219.1 L646.4,219.3 L647.6,219.5 L648.8,219.6 L650.0,219.8 L651.2,219.9 L652.4,220.0 L653.6,220.1 L654.8,220.2 L656.0,220.2 L657.2,220.3 L658.4,220.3 L659.6,220.3 L660.8,220.3 L662.0,220.3 L663.2,220.3 L664.4,220.3" stroke="#1010b0" stroke-width="1.9" fill="none"/>
<path d="M376.6,219.5 L377.8,219.6 L379.0,219.8 L380.2,220.0 L381.4,220.2 L382.6,220.4 L383.8,220.6 L385.0,220.8 L386.2,221.0 L387.4,221.2 L388.6,221.4 L389.8,221.6 L391.0,221.8 L392.2,222.0 L393.4,222.2 L394.6,222.3 L395.8,222.5 L397.0,222.6 L398.2,222.7 L399.4,222.8 L400.6,222.9 L401.8,223.0 L403.0,223.0 L404.2,223.0 L405.4,223.0 L406.6,222.9 L407.8,222.8 L409.0,222.6 L410.2,222.5 L411.4,222.2 L412.6,222.0 L413.8,221.7 L415.0,221.3 L416.2,220.9 L417.4,220.4 L418.6,219.9 L419.8,219.4 L421.0,218.7 L422.2,218.1 L423.4,217.3 L424.6,216.5 L425.8,215.7 L427.0,214.8 L428.2,213.8 L429.4,212.8 L430.6,211.8 L431.8,210.7 L433.0,209.5 L434.2,208.3 L435.4,207.0 L436.6,205.7 L437.8,204.4 L439.0,202.9 L440.2,201.5 L441.4,200.0 L442.6,198.4 L443.8,196.8 L445.0,195.1 L446.2,193.4 L447.4,191.7 L448.6,189.9 L449.7,188.1 L450.9,186.2 L452.1,184.3 L453.3,182.4 L454.5,180.5 L455.7,178.5 L456.9,176.5 L458.1,174.5 L459.3,172.5 L460.5,170.4 L461.7,168.3 L462.9,166.2 L464.1,164.1 L465.3,162.0 L466.5,159.9 L467.7,157.8 L468.9,155.7 L470.1,153.5 L471.3,151.4 L472.5,149.3 L473.7,147.2 L474.9,145.0 L476.1,142.9 L477.3,140.8 L478.5,138.7 L479.7,136.7 L480.9,134.6 L482.1,132.6 L483.3,130.6 L484.5,128.6 L485.7,126.6 L486.9,124.7 L488.1,122.8 L489.3,120.9 L490.5,119.1 L491.7,117.3 L492.9,115.5 L494.1,113.8 L495.3,112.1 L496.5,110.4 L497.7,108.8 L498.9,107.3 L500.1,105.8 L501.3,104.3 L502.5,102.9 L503.7,101.6 L504.9,100.3 L506.1,99.1 L507.3,97.9 L508.5,96.8 L509.7,95.8 L510.9,94.8 L512.1,93.9 L513.3,93.1 L514.5,92.4 L515.7,91.7 L516.9,91.1 L518.1,90.6 L519.3,90.2 L520.5,89.8 L521.7,89.6 L522.9,89.4 L524.1,89.2 L525.3,89.2 L526.5,89.2 L527.7,89.4 L528.9,89.6 L530.1,89.8 L531.3,90.2 L532.5,90.6 L533.7,91.0 L534.9,91.6 L536.1,92.2 L537.3,92.9 L538.5,93.7 L539.7,94.5 L540.9,95.4 L542.1,96.4 L543.3,97.4 L544.5,98.5 L545.7,99.7 L546.9,100.9 L548.1,102.2 L549.3,103.6 L550.5,105.0 L551.7,106.5 L552.9,108.0 L554.1,109.6 L555.3,111.3 L556.5,113.0 L557.7,114.8 L558.9,116.6 L560.1,118.5 L561.3,120.4 L562.5,122.4 L563.7,124.5 L564.9,126.6 L566.1,128.8 L567.3,131.0 L568.5,133.2 L569.7,135.5 L570.9,137.7 L572.1,140.1 L573.3,142.4 L574.5,144.7 L575.7,147.1 L576.9,149.4 L578.1,151.8 L579.3,154.1 L580.5,156.4 L581.7,158.8 L582.9,161.1 L584.1,163.3 L585.3,165.5 L586.5,167.7 L587.7,169.9 L588.9,172.0 L590.1,174.1 L591.3,176.1 L592.5,178.0 L593.6,179.9 L594.8,181.8 L596.0,183.7 L597.2,185.5 L598.4,187.3 L599.6,189.1 L600.8,190.9 L602.0,192.7 L603.2,194.4 L604.4,196.2 L605.6,197.9 L606.8,199.6 L608.0,201.2 L609.2,202.8 L610.4,204.4 L611.6,205.8 L612.8,207.3 L614.0,208.6 L615.2,209.9 L616.4,211.1 L617.6,212.2 L618.8,213.2 L620.0,214.2 L621.2,215.0 L622.4,215.9 L623.6,216.6 L624.8,217.3 L626.0,218.0 L627.2,218.6 L628.4,219.1 L629.6,219.6 L630.8,220.1 L632.0,220.5 L633.2,220.9 L634.4,221.2 L635.6,221.5 L636.8,221.8 L638.0,222.0 L639.2,222.2 L640.4,222.4 L641.6,222.5 L642.8,222.6 L644.0,222.7 L645.2,222.7 L646.4,222.7 L647.6,222.7 L648.8,222.7 L650.0,222.6 L651.2,222.5 L652.4,222.4 L653.6,222.3 L654.8,222.2 L656.0,222.0 L657.2,221.8 L658.4,221.7 L659.6,221.5 L660.8,221.3 L662.0,221.1 L663.2,220.8 L664.4,220.6" stroke="#000" stroke-width="1.9" fill="none"/>
<path d="M522.4,78.3 V131.4 M536.9,78.3 V131.4" stroke="#9ad35e" stroke-width="1.2"/>
<rect x="570.6" y="77.6" width="93.7" height="35.4" fill="#fff" stroke="#9a9a9a" stroke-width="0.9"/>
<path d="M571.6,85 H580.1" stroke="#e31a1a" stroke-width="1.8"/>
<path d="M571.6,96.4 H580.1" stroke="#1515b0" stroke-width="1.8"/>
<path d="M571.6,107.1 H580.1" stroke="#000" stroke-width="1.8"/>
<g font-family="Liberation Sans, sans-serif">
<text x="580.7" y="88.4" font-size="9.4" text-anchor="start" fill="#1a1a1a"  textLength="79.5" lengthAdjust="spacingAndGlyphs">Delay amplification</text>
<text x="580.8" y="99.7" font-size="9.4" text-anchor="start" fill="#1a1a1a"  textLength="81.3" lengthAdjust="spacingAndGlyphs">SBS delayed Pulse</text>
<text x="580.7" y="110.7" font-size="9.4" text-anchor="start" fill="#1a1a1a"  textLength="47.4" lengthAdjust="spacingAndGlyphs">Input Pulse</text>
<text x="401.8" y="95.6" font-size="14.5" text-anchor="start" fill="#1a1a1a" >(c)</text>
<text x="374.9" y="242.9" font-size="9.4" text-anchor="end" fill="#1a1a1a"  textLength="16.2" lengthAdjust="spacingAndGlyphs">-0.2</text>
<text x="374.9" y="217.9" font-size="9.4" text-anchor="end" fill="#1a1a1a" >0</text>
<text x="374.9" y="192.9" font-size="9.4" text-anchor="end" fill="#1a1a1a"  textLength="13.2" lengthAdjust="spacingAndGlyphs">0.2</text>
<text x="374.9" y="167.9" font-size="9.4" text-anchor="end" fill="#1a1a1a"  textLength="13.2" lengthAdjust="spacingAndGlyphs">0.4</text>
<text x="374.9" y="142.9" font-size="9.4" text-anchor="end" fill="#1a1a1a"  textLength="13.2" lengthAdjust="spacingAndGlyphs">0.6</text>
<text x="374.9" y="117.9" font-size="9.4" text-anchor="end" fill="#1a1a1a"  textLength="13.2" lengthAdjust="spacingAndGlyphs">0.8</text>
<text x="374.9" y="92.9" font-size="9.4" text-anchor="end" fill="#1a1a1a" >1</text>
<text x="376.6" y="248.6" font-size="9.4" text-anchor="middle" fill="#1a1a1a"  textLength="10.4" lengthAdjust="spacingAndGlyphs">50</text>
<text x="424.6" y="248.6" font-size="9.4" text-anchor="middle" fill="#1a1a1a"  textLength="10.4" lengthAdjust="spacingAndGlyphs">60</text>
<text x="472.5" y="248.6" font-size="9.4" text-anchor="middle" fill="#1a1a1a"  textLength="10.4" lengthAdjust="spacingAndGlyphs">70</text>
<text x="520.5" y="248.6" font-size="9.4" text-anchor="middle" fill="#1a1a1a"  textLength="10.4" lengthAdjust="spacingAndGlyphs">80</text>
<text x="568.5" y="248.6" font-size="9.4" text-anchor="middle" fill="#1a1a1a"  textLength="10.4" lengthAdjust="spacingAndGlyphs">90</text>
<text x="616.4" y="248.6" font-size="9.4" text-anchor="middle" fill="#1a1a1a"  textLength="15.6" lengthAdjust="spacingAndGlyphs">100</text>
<text x="664.4" y="248.6" font-size="9.4" text-anchor="middle" fill="#1a1a1a"  textLength="15.6" lengthAdjust="spacingAndGlyphs">110</text>
<text x="494.2" y="259.8" font-size="12.3" text-anchor="start" fill="#1a1a1a"  textLength="53" lengthAdjust="spacingAndGlyphs">Time (ns)</text>
<text x="355" y="229.9" font-size="12.2" text-anchor="start" fill="#1a1a1a" transform="rotate(-90 355 229.9)"  textLength="143.2" lengthAdjust="spacingAndGlyphs">Nomalized intensity (a.u.)</text>
</g>
</svg>
</body></html>
